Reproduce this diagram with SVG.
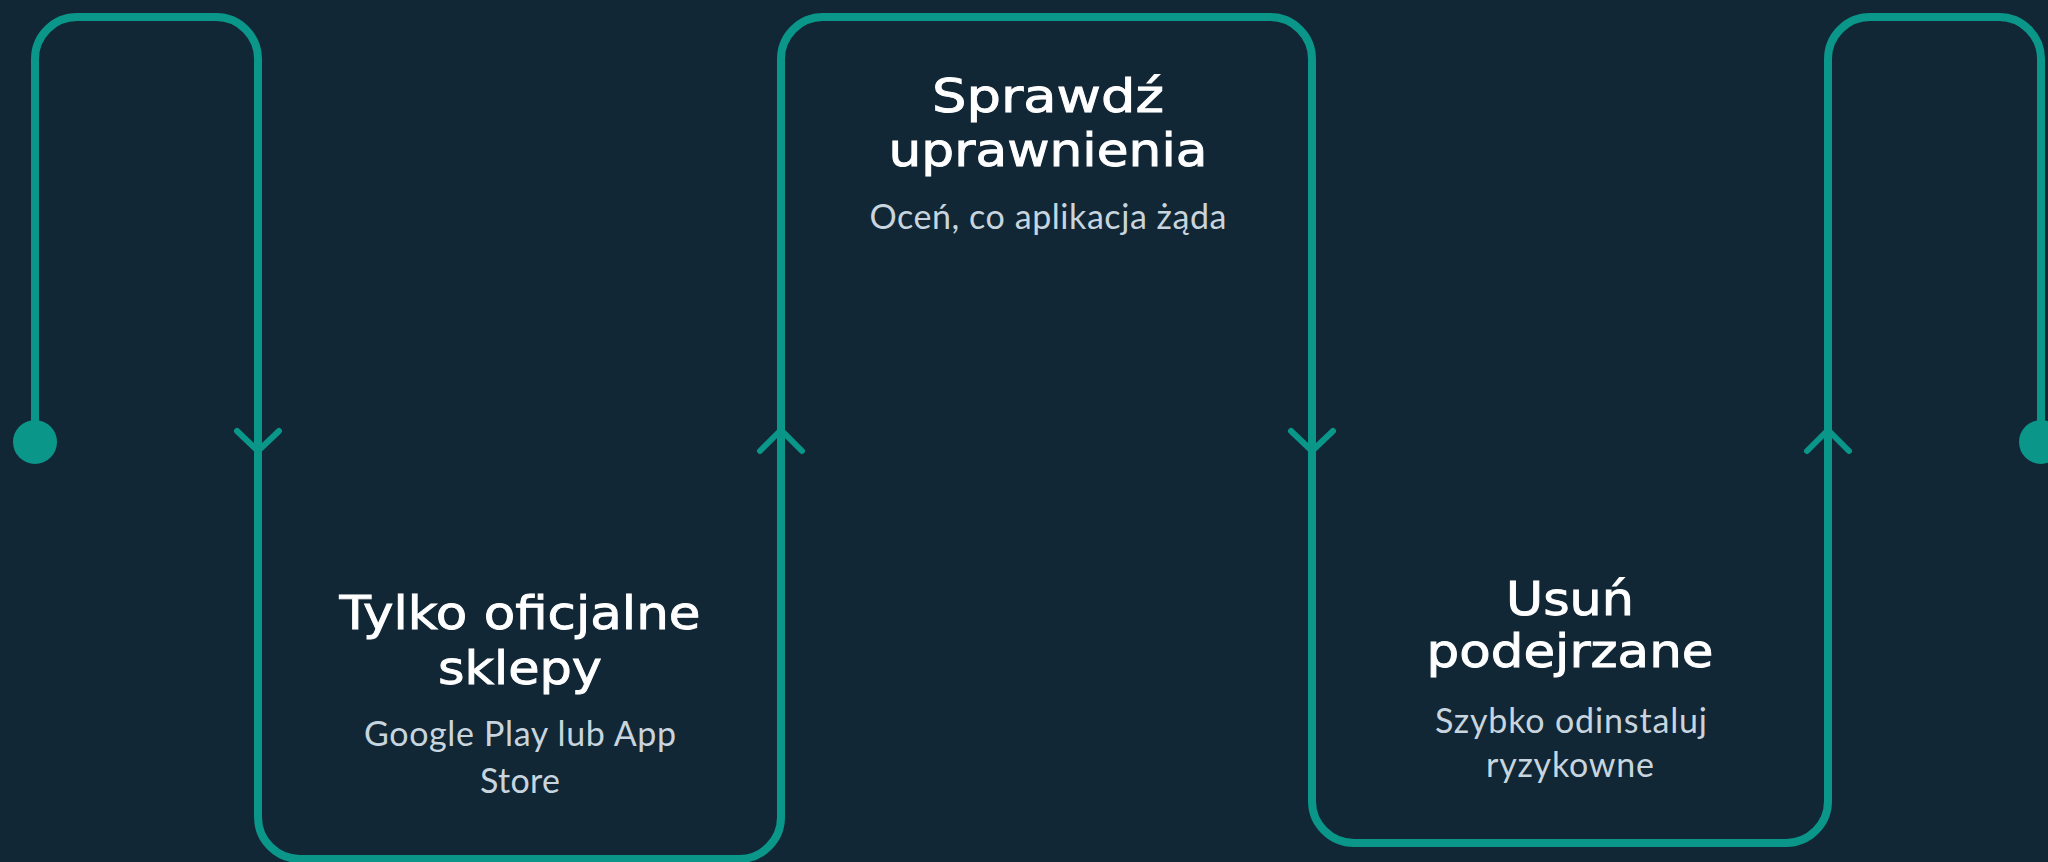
<svg xmlns="http://www.w3.org/2000/svg" width="2048" height="862" viewBox="0 0 2048 862">
  <style>
    .bg { fill: #112736; }
    .track { fill: none; stroke: #0a9688; stroke-width: 8; stroke-linejoin: round; }
    .chev { fill: none; stroke: #0a9688; stroke-width: 6; stroke-linecap: round; stroke-linejoin: round; }
    .dot { fill: #0a9688; }
    .head { font-family: "DejaVu Sans", "Liberation Sans", sans-serif; font-size: 46px; fill: #ffffff; stroke: #ffffff; stroke-width: 0.9px; text-anchor: middle; }
    .sub { font-family: Lato, "Open Sans", sans-serif; font-size: 34px; fill: #c8d5de; text-anchor: middle; }
  </style>
  <rect class="bg" x="0" y="0" width="2048" height="862"/>

  <g id="connectors">
    <path class="track" d="M 35 442 V 59 A 42 42 0 0 1 77 17 H 216 A 42 42 0 0 1 258 59 V 817 A 42 42 0 0 0 300 859 H 739 A 42 42 0 0 0 781 817 V 59 A 42 42 0 0 1 823 17 H 1270 A 42 42 0 0 1 1312 59 V 801 A 42 42 0 0 0 1354 843 H 1786 A 42 42 0 0 0 1828 801 V 59 A 42 42 0 0 1 1870 17 H 1999 A 42 42 0 0 1 2041 59 V 442"/>
    <circle class="dot" cx="35" cy="442" r="22"/>
    <circle class="dot" cx="2041" cy="442" r="22"/>
    <path class="chev" d="M 237 431 L 258 451 L 279 431"/>
    <path class="chev" d="M 760 451 L 781 430 L 802 451"/>
    <path class="chev" d="M 1291 431 L 1312 451 L 1333 431"/>
    <path class="chev" d="M 1807 451 L 1828 430 L 1849 451"/>
  </g>

  <g id="node-tylko">
    <text class="head" x="520" y="629" textLength="361" lengthAdjust="spacingAndGlyphs">Tylko oficjalne</text>
    <text class="head" x="520" y="684" textLength="164" lengthAdjust="spacingAndGlyphs">sklepy</text>
    <text class="sub" x="520" y="746" textLength="312" lengthAdjust="spacing">Google Play lub App</text>
    <text class="sub" x="520" y="793" textLength="80" lengthAdjust="spacing">Store</text>
  </g>

  <g id="node-sprawdz">
    <text class="head" x="1048" y="112" textLength="232" lengthAdjust="spacingAndGlyphs">Sprawdź</text>
    <text class="head" x="1048" y="166" textLength="319" lengthAdjust="spacingAndGlyphs">uprawnienia</text>
    <text class="sub" x="1048" y="229" textLength="357" lengthAdjust="spacing">Oceń, co aplikacja żąda</text>
  </g>

  <g id="node-usun">
    <text class="head" x="1570" y="615" textLength="128" lengthAdjust="spacingAndGlyphs">Usuń</text>
    <text class="head" x="1570" y="667" textLength="287" lengthAdjust="spacingAndGlyphs">podejrzane</text>
    <text class="sub" x="1571" y="733" textLength="272" lengthAdjust="spacing">Szybko odinstaluj</text>
    <text class="sub" x="1570" y="777" textLength="168" lengthAdjust="spacing">ryzykowne</text>
  </g>
</svg>
